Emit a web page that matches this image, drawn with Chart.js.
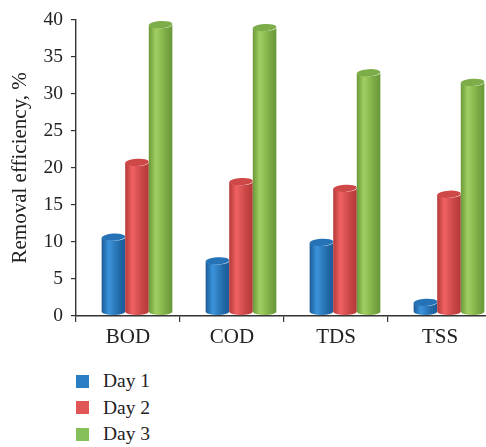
<!DOCTYPE html>
<html>
<head>
<meta charset="utf-8">
<script src="https://cdn.jsdelivr.net/npm/chart.js@4"></script>
<style>
  html, body { margin: 0; padding: 0; background: #fff; overflow: hidden; }
  #wrap { position: relative; width: 492px; height: 362px; }
  #legend { position: absolute; left: 76px; top: 368px; font-family: "Liberation Serif", serif; font-size: 19.5px; color: #222; }
  .item { height: 26.5px; display: flex; align-items: center; }
  .box { width: 13px; height: 13px; margin-right: 14px; }
</style>
</head>
<body>
<div id="wrap"><canvas id="myChart" width="492" height="362"></canvas></div>
<div id="legend"></div>
<script>
const categories = ['BOD', 'COD', 'TDS', 'TSS']
const seriesNames = ['Day 1', 'Day 2', 'Day 3']
const day1 = [10.1, 6.9, 9.4, 1.3]
const day2 = [20.2, 17.6, 16.7, 15.9]
const day3 = [38.8, 38.4, 32.3, 31.0]
const yTicks = [0, 5, 10, 15, 20, 25, 30, 35, 40]

// flat colours for the legend, shades for the cylinders
const colors = ['#2a7fc4', '#e05555', '#86c05a']
const shades = [
    { edge: '#1b5b97', light: '#3b93dc', right: '#226aa8', top: '#2573b6' },
    { edge: '#b63838', light: '#f06262', right: '#c54444', top: '#cf4848' },
    { edge: '#6a9838', light: '#a2d062', right: '#77a842', top: '#7dad48' }
]
const DX = 9, DY = -4, RY = 3.6

const legend = document.getElementById('legend')
seriesNames.forEach((name, i) => {
    const row = document.createElement('div')
    row.className = 'item'
    row.innerHTML = `<span class="box" style="background:${colors[i]}"></span><span>${name}</span>`
    legend.appendChild(row)
})

const cylinders = {
    id: 'cylinders',
    afterDatasetsDraw(chart) {
        const c = chart.ctx
        chart.data.datasets.forEach((ds, i) => {
            const meta = chart.getDatasetMeta(i)
            const s = shades[i]
            meta.data.forEach(bar => {
                const p = bar.getProps(['x', 'y', 'base', 'width'], true)
                const cx = p.x + DX
                const rx = p.width / 2
                const left = cx - rx, right = cx + rx
                const top = p.y + DY, bottom = p.base + DY
                const g = c.createLinearGradient(left, 0, right, 0)
                g.addColorStop(0, s.edge)
                g.addColorStop(0.3, s.light)
                g.addColorStop(0.75, s.right)
                g.addColorStop(1, s.edge)
                c.save()
                c.beginPath()
                c.moveTo(left, top)
                c.lineTo(left, bottom)
                c.ellipse(cx, bottom, rx, RY, 0, Math.PI, 0, true)
                c.lineTo(right, top)
                c.ellipse(cx, top, rx, RY, 0, 0, Math.PI, false)
                c.closePath()
                c.fillStyle = g
                c.fill()
                c.beginPath()
                c.ellipse(cx, top, rx, RY, -0.06, 0, Math.PI * 2)
                c.fillStyle = s.top
                c.fill()
                c.restore()
            })
        })
    }
}

const data = {
    labels: categories,
    datasets: [day1, day2, day3].map((vals, i) => ({
        label: seriesNames[i],
        data: vals,
        backgroundColor: 'rgba(0,0,0,0)',
        categoryPercentage: 0.68,
        barPercentage: 1.0
    }))
}

new Chart(document.getElementById('myChart'), {
    type: 'bar',
    data: data,
    plugins: [cylinders],
    options: {
        responsive: false,
        animation: false,
        layout: { padding: { top: 15, left: 0, right: 0, bottom: 0 } },
        plugins: { legend: { display: false }, tooltip: { enabled: false } },
        scales: {
            x: {
                afterFit: scale => { scale.height = 46 },
                grid: { drawOnChartArea: false, tickLength: 6, color: '#333', lineWidth: 1.2 },
                border: { color: '#333', width: 1.4 },
                ticks: { color: '#222', padding: 3, font: { family: 'Liberation Serif', size: 21 } }
            },
            y: {
                min: 0,
                max: 40,
                afterFit: scale => { scale.width = 76 },
                afterBuildTicks: scale => { scale.ticks = yTicks.map(v => ({ value: v })) },
                grid: { drawOnChartArea: false, tickLength: 5, color: '#333', lineWidth: 1.2 },
                border: { color: '#333', width: 1.4 },
                ticks: { color: '#222', padding: 8, font: { family: 'Liberation Serif', size: 19.5 } },
                title: {
                    display: true,
                    text: 'Removal efficiency, %',
                    color: '#222',
                    padding: { top: 8 },
                    font: { family: 'Liberation Serif', size: 21 }
                }
            }
        }
    }
});
</script>
</body>
</html>
